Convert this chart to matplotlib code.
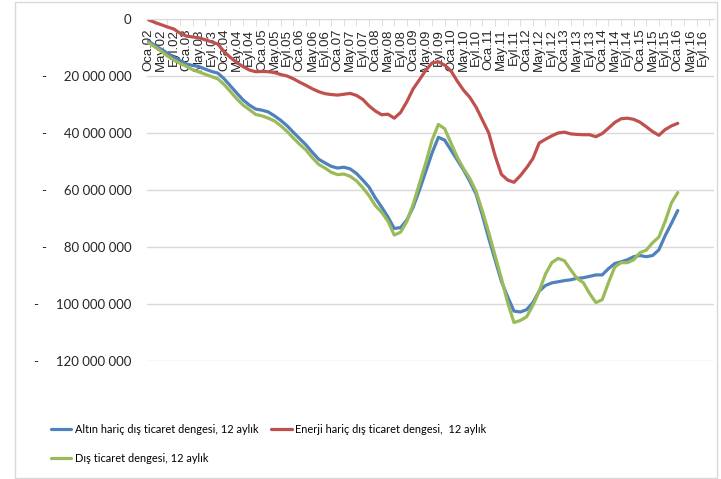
import matplotlib
matplotlib.use("Agg")
import matplotlib.pyplot as plt
from matplotlib.ticker import FuncFormatter, FixedLocator
from matplotlib.patches import Rectangle

# categories: months since Oca.02 (data every 2 months)
month_idx = list(range(0, 170, 2))

# 12-month rolling balances, million USD
altin_haric = [
    -7.8, -9.3, -10.6, -12.0, -13.5, -14.6, -15.8, -16.3, -16.7, -17.6,
    -18.4, -19.0, -21.0, -23.5, -26.0, -28.4, -30.2, -31.6, -32.0, -32.6,
    -34.0, -35.6, -37.5, -39.8, -42.0, -44.2, -46.8, -49.2, -50.5, -51.7,
    -52.3, -52.0, -52.6, -54.2, -56.5, -59.0, -62.8, -66.0, -69.5, -73.5,
    -73.2, -70.5, -66.0, -60.0, -53.5, -47.0, -41.5, -42.5, -46.0, -49.5,
    -53.0, -57.0, -61.5, -69.0, -77.0, -84.5, -92.0, -97.5, -102.5, -102.8,
    -102.0, -99.5, -95.5, -93.5, -92.6, -92.2, -91.8, -91.5, -91.0, -90.8,
    -90.3, -89.8, -89.8, -87.6, -85.8, -85.2, -84.5, -83.4, -83.0, -83.4,
    -83.0, -81.0, -76.0, -71.7, -67.2,
]
enerji_haric = [
    -0.3, -1.2, -2.0, -2.8, -3.5, -5.0, -6.0, -6.3, -6.6, -7.3,
    -8.0, -8.8, -11.5, -13.5, -15.3, -16.7, -17.9, -18.5, -18.4, -18.5,
    -18.8, -19.5, -20.0, -21.0, -22.2, -23.3, -24.5, -25.5, -26.2, -26.5,
    -26.7, -26.4, -26.1, -26.8, -28.2, -30.5, -32.3, -33.6, -33.4, -34.8,
    -32.8, -29.0, -24.5, -21.3, -18.0, -15.4, -15.0, -16.2, -18.2, -21.8,
    -25.0, -27.5, -31.0, -35.5, -40.0, -48.0, -54.5, -56.5, -57.3, -55.0,
    -52.2, -49.0, -43.5, -42.2, -41.0, -40.0, -39.7, -40.3, -40.5, -40.6,
    -40.6, -41.3, -40.2, -38.3, -36.3, -35.0, -34.8, -35.2, -36.2, -37.8,
    -39.5, -40.8, -38.8, -37.5, -36.6,
]
dis_ticaret = [
    -8.3, -9.8, -11.3, -13.0, -14.4, -15.6, -16.6, -17.8, -18.6, -19.4,
    -20.2, -21.0, -23.0, -25.5, -28.0, -30.2, -31.8, -33.5, -34.0, -34.8,
    -35.8, -37.5, -39.5, -41.8, -44.0, -46.0, -48.7, -51.0, -52.3, -53.8,
    -54.6, -54.4, -55.2, -56.8, -59.2, -62.0, -65.5, -67.8, -71.0, -75.8,
    -74.8, -71.0, -65.0, -57.7, -50.5, -42.5, -37.0, -38.5, -43.5, -48.5,
    -52.5, -56.0, -60.6, -67.5, -75.0, -83.0, -91.0, -99.5, -106.5, -105.8,
    -104.5, -100.5, -95.5, -89.5, -85.5, -84.0, -84.8, -88.0, -91.0, -92.5,
    -96.3, -99.5, -98.5, -92.5, -87.0, -85.5, -85.5, -84.5, -82.0, -81.1,
    -78.5, -76.5, -71.0, -64.5, -60.9,
]

label_months = ["Oca", "May", "Eyl"]
label_years = list(range(2, 17))
tick_labels = [f"{m}.{y:02d}" for y in label_years for m in label_months]

names = [
    "Altın hariç dış ticaret dengesi, 12 aylık",
    "Enerji hariç dış ticaret dengesi,  12 aylık",
    "Dış ticaret dengesi, 12 aylık",
]
colors = ["#4F81BD", "#C0504D", "#9BBB59"]

fig = plt.figure(figsize=(7.21, 4.79), dpi=100)
ax = fig.add_axes([147 / 721, 1 - 361 / 479, 567 / 721, 342 / 479])

lines = []
for vals, name, col in zip([altin_haric, enerji_haric, dis_ticaret], names, colors):
    (ln,) = ax.plot(month_idx, [v * 1e6 for v in vals], color=col, lw=2.3,
                    label=name, solid_capstyle="round")
    lines.append(ln)

ax.set_xlim(-0.5, 179.5)
ax.set_ylim(-120e6, 0)
ax.set_yticks([-120e6, -100e6, -80e6, -60e6, -40e6, -20e6, 0])


def fmt(v, pos):
    if v == 0:
        return "0"
    return "-     " + f"{abs(v):,.0f}".replace(",", " ")


ax.yaxis.set_major_formatter(FuncFormatter(fmt))
ax.grid(axis="y", color="#d9d9d9", lw=1)
ax.tick_params(axis="y", length=0, pad=11, labelsize=9.5, labelcolor="#262626")
for t in ax.get_yticklabels():
    t.set_family("Lato")

# category axis sits at zero, labels hang below it
ax.spines["bottom"].set_position(("data", 0))
ax.spines["bottom"].set_color("#d9d9d9")
for s in ["left", "right", "top"]:
    ax.spines[s].set_visible(False)
ax.xaxis.set_major_locator(FixedLocator(list(range(0, 180, 4))))
ax.set_xticklabels(tick_labels, rotation=90, va="top", ha="center",
                   family="Liberation Sans", fontsize=9.5, color="#262626")
ax.xaxis.set_minor_locator(FixedLocator([x - 2 for x in range(0, 181, 4)]))
ax.tick_params(axis="x", which="major", length=0, pad=7)
ax.tick_params(axis="x", which="minor", length=5, color="#d9d9d9", direction="out")

leg = fig.legend([lines[0], lines[2], lines[1]], [names[0], names[2], names[1]],
                 ncol=2, loc="upper left", bbox_to_anchor=(51 / 721, 1 - 424 / 479),
                 frameon=False, prop={"family": "Lato", "size": 7.9},
                 handlelength=1.85, handletextpad=0.3, columnspacing=1.2,
                 labelspacing=1.6, borderpad=0, borderaxespad=0)

fig.patches.append(Rectangle((15 / 721, 1 / 479), 702 / 721, 476 / 479,
                             transform=fig.transFigure, fill=False,
                             edgecolor="#d9d9d9", lw=1))

fig.savefig("out.png", dpi=100)
